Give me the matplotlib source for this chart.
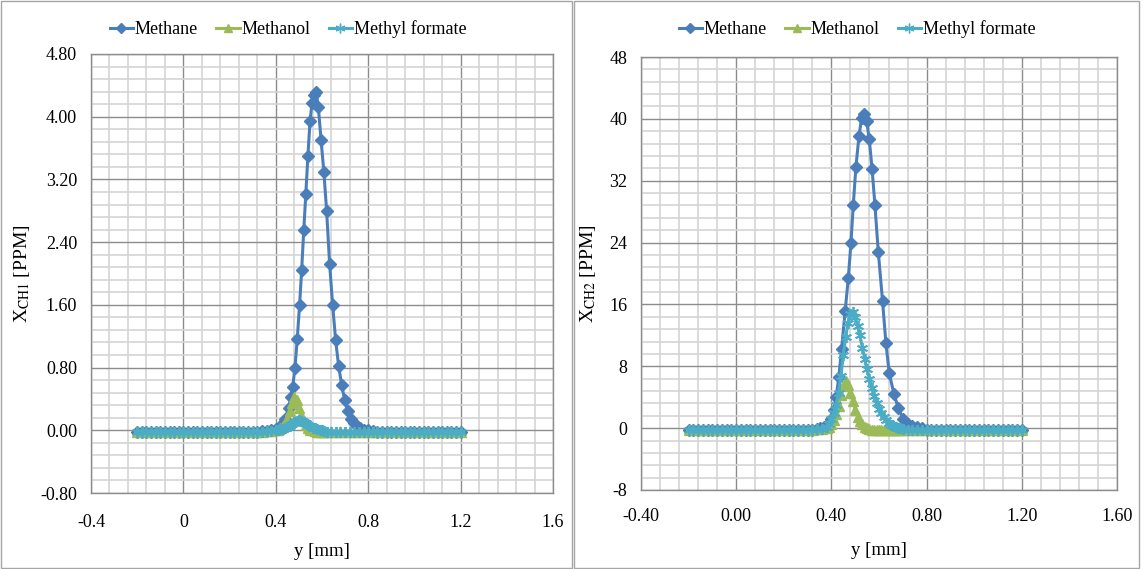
import matplotlib
matplotlib.use("Agg")
import matplotlib.pyplot as plt
from matplotlib.ticker import MultipleLocator, FixedLocator, FixedFormatter
from matplotlib.patches import Rectangle
from matplotlib.lines import Line2D

plt.rcParams['font.family'] = ['Liberation Serif', 'DejaVu Serif']
plt.rcParams['mathtext.fontset'] = 'stix'

# ---------------- data: left panel (X_CH1) ----------------
flat_left_x = [-0.20, -0.18, -0.16, -0.14, -0.12, -0.10, -0.08, -0.06, -0.04, -0.02,
               0.00, 0.02, 0.04, 0.06, 0.08, 0.10, 0.12, 0.14, 0.16, 0.18,
               0.20, 0.22, 0.24, 0.26, 0.28, 0.30, 0.32, 0.34, 0.36, 0.38]
flat_right_x = [0.82, 0.84, 0.86, 0.88, 0.90, 0.92, 0.94, 0.96, 0.98, 1.00,
                1.02, 1.04, 1.06, 1.08, 1.10, 1.12, 1.14, 1.16, 1.18, 1.20]

L_methane_x = flat_left_x + [0.40, 0.42, 0.44, 0.455, 0.465, 0.473, 0.483, 0.493, 0.503, 0.512,
                             0.521, 0.530, 0.539, 0.548, 0.557, 0.566, 0.574, 0.584, 0.596, 0.608,
                             0.620, 0.633, 0.646, 0.659, 0.672, 0.685, 0.698, 0.711, 0.724, 0.738,
                             0.752, 0.766, 0.780, 0.800] + flat_right_x
L_methane_y = [-0.02, -0.02, -0.02, -0.02, -0.02, -0.02, -0.02, -0.02, -0.02, -0.02,
               -0.02, -0.02, -0.02, -0.02, -0.02, -0.02, -0.02, -0.02, -0.02, -0.02,
               -0.02, -0.02, -0.02, -0.02, -0.02, -0.02, -0.02, -0.01, -0.01, 0.00] + \
              [0.02, 0.06, 0.15, 0.28, 0.42, 0.55, 0.80, 1.17, 1.60, 2.05,
               2.55, 3.02, 3.50, 3.94, 4.18, 4.28, 4.32, 4.13, 3.70, 3.30,
               2.80, 2.12, 1.60, 1.15, 0.82, 0.58, 0.39, 0.24, 0.15, 0.09,
               0.05, 0.03, 0.01, 0.00] + \
              [-0.01, -0.02, -0.02, -0.02, -0.02, -0.02, -0.02, -0.02, -0.02, -0.02,
               -0.02, -0.02, -0.02, -0.02, -0.02, -0.02, -0.02, -0.02, -0.02, -0.02]

L_other_x = flat_left_x + [0.40, 0.41, 0.42, 0.43, 0.44, 0.45, 0.46, 0.47, 0.48, 0.49,
                           0.50, 0.51, 0.52, 0.53, 0.54, 0.55, 0.56, 0.57, 0.58, 0.59,
                           0.60, 0.61, 0.62, 0.64, 0.66, 0.68, 0.70, 0.72, 0.74, 0.76,
                           0.78, 0.80] + flat_right_x
flat_left_L = [-0.02, -0.02, -0.02, -0.02, -0.02, -0.02, -0.02, -0.02, -0.02, -0.02,
               -0.02, -0.02, -0.02, -0.02, -0.02, -0.02, -0.02, -0.02, -0.02, -0.02,
               -0.02, -0.02, -0.02, -0.02, -0.02, -0.02, -0.02, -0.02, -0.01, -0.01]
flat_right_L = [-0.02, -0.02, -0.02, -0.02, -0.02, -0.02, -0.02, -0.02, -0.02, -0.02,
                -0.02, -0.02, -0.02, -0.02, -0.02, -0.02, -0.02, -0.02, -0.02, -0.02]
L_methanol_y = flat_left_L + [0.00, 0.01, 0.03, 0.05, 0.09, 0.15, 0.24, 0.35, 0.43, 0.39,
                              0.29, 0.20, 0.12, 0.07, 0.03, 0.01, 0.00, -0.01, -0.02, -0.02,
                              -0.02, -0.02, -0.02, -0.02, -0.02, -0.02, -0.02, -0.02, -0.02, -0.02,
                              -0.02, -0.02] + flat_right_L
L_formate_y = flat_left_L + [0.00, 0.01, 0.015, 0.02, 0.03, 0.04, 0.06, 0.08, 0.10, 0.115,
                             0.125, 0.12, 0.11, 0.09, 0.07, 0.05, 0.035, 0.025, 0.015, 0.01,
                             0.00, -0.01, -0.02, -0.02, -0.02, -0.02, -0.02, -0.02, -0.02, -0.02,
                             -0.02, -0.02] + flat_right_L

# ---------------- data: right panel (X_CH2) ----------------
R_flat_left_x = [-0.20, -0.18, -0.16, -0.14, -0.12, -0.10, -0.08, -0.06, -0.04, -0.02,
                 0.00, 0.02, 0.04, 0.06, 0.08, 0.10, 0.12, 0.14, 0.16, 0.18,
                 0.20, 0.22, 0.24, 0.26, 0.28, 0.30, 0.32, 0.34]
R_flat_left_y = [-0.3, -0.3, -0.3, -0.3, -0.3, -0.3, -0.3, -0.3, -0.3, -0.3,
                 -0.3, -0.3, -0.3, -0.3, -0.3, -0.3, -0.3, -0.3, -0.3, -0.3,
                 -0.3, -0.3, -0.3, -0.3, -0.3, -0.3, -0.2, -0.1]
R_flat_right_y = [-0.3, -0.3, -0.3, -0.3, -0.3, -0.3, -0.3, -0.3, -0.3, -0.3,
                  -0.3, -0.3, -0.3, -0.3, -0.3, -0.3, -0.3, -0.3, -0.3, -0.3]

R_methane_x = R_flat_left_x + [0.35, 0.37, 0.385, 0.40, 0.41, 0.42, 0.431, 0.443, 0.458, 0.471,
                               0.482, 0.492, 0.503, 0.516, 0.527, 0.537, 0.548, 0.559, 0.571, 0.583,
                               0.597, 0.615, 0.629, 0.643, 0.663, 0.681, 0.702, 0.72, 0.74, 0.76,
                               0.78, 0.80] + flat_right_x
R_methane_y = R_flat_left_y + [0.05, 0.2, 0.5, 1.2, 2.3, 4.0, 6.6, 10.3, 15.2, 19.4,
                               23.9, 28.9, 33.8, 37.8, 40.1, 40.6, 39.7, 37.4, 33.5, 28.8,
                               22.8, 16.4, 11.0, 7.1, 4.4, 2.6, 1.2, 0.6, 0.25, 0.1,
                               0.0, -0.2] + R_flat_right_y

R_other_x = R_flat_left_x + [0.36, 0.38, 0.39, 0.40, 0.41, 0.42, 0.43, 0.44, 0.45, 0.46,
                             0.47, 0.48, 0.49, 0.50, 0.51, 0.52, 0.53, 0.54, 0.55, 0.56,
                             0.57, 0.58, 0.59, 0.60, 0.61, 0.62, 0.63, 0.64, 0.65, 0.66,
                             0.67, 0.68, 0.69, 0.70, 0.72, 0.74, 0.76, 0.78, 0.80] + flat_right_x
R_methanol_y = R_flat_left_y + [-0.1, 0.0, 0.2, 0.5, 1.0, 1.8, 2.9, 4.3, 5.4, 6.1,
                                5.6, 4.6, 3.5, 2.4, 1.5, 0.9, 0.5, 0.2, 0.0, -0.1,
                                -0.2, -0.3, -0.3, -0.3, -0.3, -0.3, -0.3, -0.3, -0.3, -0.3,
                                -0.3, -0.3, -0.3, -0.3, -0.3, -0.3, -0.3, -0.3, -0.3] + R_flat_right_y
R_formate_y = R_flat_left_y + [-0.1, 0.1, 0.5, 1.2, 2.0, 3.0, 4.6, 6.8, 9.4, 11.8,
                               13.6, 14.8, 15.0, 14.4, 13.2, 12.0, 10.4, 9.0, 7.6, 6.3,
                               5.2, 4.2, 3.3, 2.5, 1.9, 1.4, 1.0, 0.7, 0.45, 0.3,
                               0.15, 0.05, 0.0, -0.1, -0.3, -0.3, -0.3, -0.3, -0.3] + R_flat_right_y

series_names = ["Methane", "Methanol", "Methyl formate"]
colors = ["#4A7EBB", "#9BBB59", "#4BACC6"]
L_ticks_x = [-0.4, 0.0, 0.4, 0.8, 1.2, 1.6]
L_ticklabels_x = ["-0.4", "0", "0.4", "0.8", "1.2", "1.6"]
L_ticks_y = [-0.8, 0.0, 0.8, 1.6, 2.4, 3.2, 4.0, 4.8]
L_ticklabels_y = ["-0.80", "0.00", "0.80", "1.60", "2.40", "3.20", "4.00", "4.80"]
R_ticks_x = [-0.4, 0.0, 0.4, 0.8, 1.2, 1.6]
R_ticklabels_x = ["-0.40", "0.00", "0.40", "0.80", "1.20", "1.60"]
R_ticks_y = [-8, 0, 8, 16, 24, 32, 40, 48]
R_ticklabels_y = ["-8", "0", "8", "16", "24", "32", "40", "48"]

# ---------------- figure ----------------
fig = plt.figure(figsize=(11.43, 5.69), dpi=100)
W, H = 1143, 569

def px_axes(l, t, r, b):
    return fig.add_axes([l / W, 1 - b / H, (r - l) / W, (b - t) / H])

ax1 = px_axes(91, 54, 553, 493)
ax2 = px_axes(641, 57, 1117, 490)

markers = ["D", "^", (6, 2, 0)]
msizes = [6, 7, 8]
LW = 2.2

def style(ax, xt, xtl, yt, ytl, xminor, yminor, ylim, ylabel, xpad, ylabx, xlaby):
    ax.set_xlim(-0.4, 1.6)
    ax.set_ylim(*ylim)
    ax.xaxis.set_major_locator(FixedLocator(xt))
    ax.xaxis.set_major_formatter(FixedFormatter(xtl))
    ax.yaxis.set_major_locator(FixedLocator(yt))
    ax.yaxis.set_major_formatter(FixedFormatter(ytl))
    ax.xaxis.set_minor_locator(MultipleLocator(xminor))
    ax.yaxis.set_minor_locator(MultipleLocator(yminor))
    ax.grid(which='minor', color='#d4d4d4', lw=1.2, zorder=0)
    ax.grid(which='major', color='#8c8c8c', lw=1.0, zorder=0)
    ax.set_axisbelow(True)
    for s in ax.spines.values():
        s.set_color('#8c8c8c')
        s.set_linewidth(1.0)
    ax.tick_params(which='both', length=0, labelsize=13)
    ax.tick_params(axis='x', pad=xpad)
    ax.tick_params(axis='y', pad=10)
    ax.set_xlabel("y [mm]", fontsize=13.5)
    ax.xaxis.set_label_coords(0.5, xlaby)
    ax.set_ylabel(ylabel, fontsize=14)
    ax.yaxis.set_label_coords(ylabx, 0.5)

def draw(ax, mx, my, ox, ny, fy):
    ax.plot(mx, my, color=colors[0], marker=markers[0], ms=msizes[0], lw=LW, zorder=3)
    ax.plot(ox, ny, color=colors[1], marker=markers[1], ms=msizes[1], lw=LW, zorder=4)
    ax.plot(ox, fy, color=colors[2], marker=markers[2], ms=msizes[2], mew=1.3, lw=LW, zorder=5)

draw(ax1, L_methane_x, L_methane_y, L_other_x, L_methanol_y, L_formate_y)
style(ax1, L_ticks_x, L_ticklabels_x, L_ticks_y, L_ticklabels_y, 0.08, 0.16, (-0.8, 4.8),
      r"X$_{\mathrm{CH1}}$ [PPM]", 15, -0.128, -0.115)

draw(ax2, R_methane_x, R_methane_y, R_other_x, R_methanol_y, R_formate_y)
style(ax2, R_ticks_x, R_ticklabels_x, R_ticks_y, R_ticklabels_y, 0.08, 1.6, (-8, 48),
      r"X$_{\mathrm{CH2}}$ [PPM]", 13, -0.09, -0.12)

# chart-area frames
fig.patches.append(Rectangle((1 / W, 1 / H), 571 / W, 567 / H, transform=fig.transFigure,
                             fill=False, edgecolor='#a6a6a6', lw=1.0))
fig.patches.append(Rectangle((574 / W, 1 / H), 565 / W, 567 / H, transform=fig.transFigure,
                             fill=False, edgecolor='#a6a6a6', lw=1.0))

handles = [Line2D([], [], color=c, marker=m, ms=s - 1, lw=LW) for c, m, s in zip(colors, markers, msizes)]
for cx in (288, 857):
    fig.legend(handles, series_names, loc='center', bbox_to_anchor=(cx / W, 1 - 29 / H),
               ncol=3, frameon=False, fontsize=13, handlelength=1.3, handletextpad=0.1,
               columnspacing=1.0, borderaxespad=0)

fig.savefig("out.png", dpi=100)
